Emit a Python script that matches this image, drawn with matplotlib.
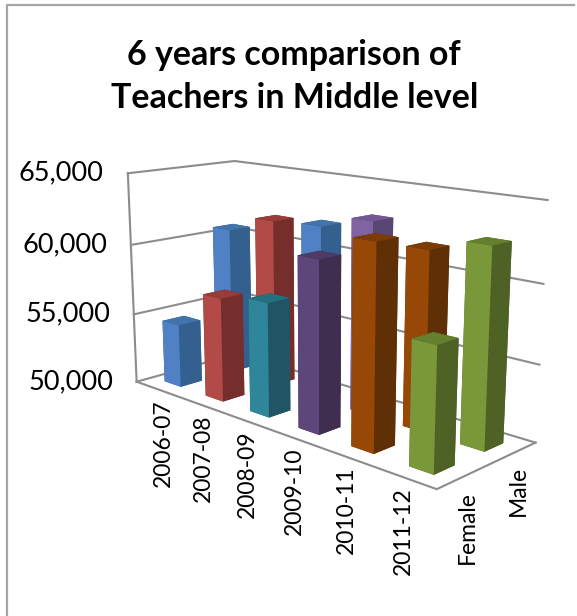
import matplotlib
matplotlib.use("Agg")
import matplotlib.pyplot as plt
from matplotlib.lines import Line2D
from mpl_toolkits.mplot3d import proj3d

plt.rcParams["font.family"] = ["Lato", "DejaVu Sans"]

years = ["2006-07", "2007-08", "2008-09", "2009-10", "2010-11", "2011-12"]
genders = ["Female", "Male"]
female = [54500, 57200, 57700, 61200, 62900, 57700]
male = [60600, 61800, 62000, 62900, 61700, 62600]
yticks = [50000, 55000, 60000, 65000]

# (front, side, top) shades for each bar
blue = ["#4f81c4", "#33608f", "#4273ab"]
red = ["#b24a48", "#762e2d", "#963c3a"]
teal = ["#2f869b", "#1f5565", "#23707f"]
purple_dark = ["#5d4679", "#3f2e50", "#4d3a66"]
purple = ["#8064a2", "#5a4672", "#735894"]
orange = ["#974807", "#5f2f05", "#7c3c06"]
green = ["#7a973a", "#4f6226", "#64802f"]
female_colors = [blue, red, teal, purple_dark, orange, green]
male_colors = [blue, red, blue, purple, orange, green]

line_color = "#8c8c8c"

fig = plt.figure(figsize=(5.77, 6.16), dpi=100)
# outer frame, only top and left show in the picture
fig.add_artist(Line2D([0.012, 0.012, 0.995], [0.0, 0.992, 0.992], transform=fig.transFigure,
                      color="#a6a6a6", lw=1.6))
fig.text(0.51, 0.876, "6 years comparison of\nTeachers in Middle level", ha="center", va="center",
         fontsize=24.5, fontweight="bold", linespacing=1.45)

ax = fig.add_axes([0.1214, 0.1015, 0.845, 0.80], projection="3d")
ax.set_proj_type("persp", focal_length=0.42)
ax.view_init(elev=14, azim=-46)
ax.set_box_aspect((411, 147, 226), zoom=1.0)
ax.computed_zorder = False
ax.set_axis_off()
ax.patch.set_alpha(0)

ax.set_xlim(0, 6)
ax.set_ylim(0, 2)
ax.set_zlim(50000, 65000)

# walls
for v in yticks:
    ax.plot([0, 0, 6], [0, 2, 2], [v, v, v], color=line_color, lw=1.5, zorder=1)
ax.plot([0, 0], [0, 0], [50000, 65000], color=line_color, lw=1.5, zorder=1)
ax.plot([0, 6, 6], [0, 0, 2], [50000, 50000, 50000], color=line_color, lw=1.5, zorder=1)

# bars, back row first, left to right
base = yticks[0]
w = 0.4
d = 0.4
z = 2
for row, vals, cols in [(1, male, male_colors), (0, female, female_colors)]:
    for i in range(len(years)):
        front, side, top = cols[i]
        ax.bar3d(i + 0.5 - w / 2, row + 0.5 - d / 2, base, w, d, vals[i] - base,
                 color=[side, top, front, side, side, side], shade=False,
                 edgecolor="none", zorder=z)
        z += 1


def label_at(x, y, z, s, **kw):
    # ax.text turns 3d text along the projection, so go through 2d for upright labels
    px, py, _ = proj3d.proj_transform(x, y, z, ax.get_proj())
    ax.text2D(px, py, s, transform=ax.transData, zorder=30, **kw)


for i, label in enumerate(years):
    label_at(0.97 + 0.94 * i, -0.22, base, label, rotation=90, ha="center", va="top", fontsize=16.5)
for j, label in enumerate(genders):
    label_at(6.3, j + 0.2, base, label, rotation=90, ha="center", va="top", fontsize=16.5)
for v in yticks:
    label_at(-0.27, -0.23, v, f"{v:,}", ha="right", va="center", fontsize=19.5)

fig.savefig("out.png", dpi=100)
